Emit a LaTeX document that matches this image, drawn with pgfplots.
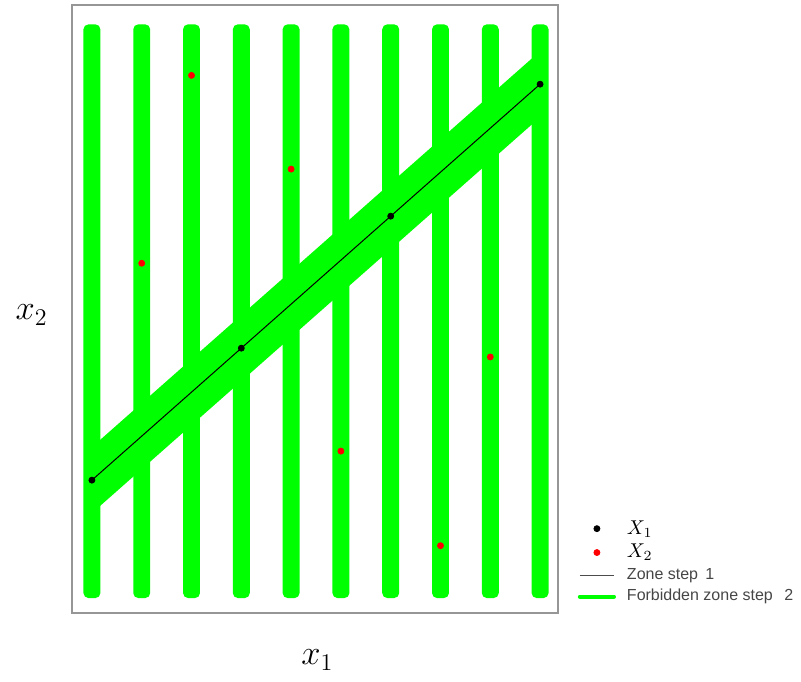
\documentclass[border=0pt]{standalone}
\usepackage{pgfplots}
\pgfplotsset{compat=1.18}
\usepackage{fontspec}
\setmainfont{Liberation Sans}
\definecolor{zone}{RGB}{0,255,0}
\definecolor{frame}{RGB}{150,150,150}
\definecolor{legtext}{RGB}{70,70,70}
\pgfplotsset{stripe/.style={fill=zone, draw=none, rounded corners=2.5pt, forget plot}}
\begin{document}
\begin{tikzpicture}
\path[use as bounding box] (0,0) rectangle (400.5pt,340.5pt);
\begin{axis}[
  at={(36pt,34pt)}, anchor=south west,
  scale only axis, width=243pt, height=304pt,
  xmin=-0.40, xmax=9.36, ymin=-3.02, ymax=10.8,
  xtick=\empty, ytick=\empty,
  axis line style={draw=frame, line width=0.8pt},
  xlabel={$x_1$}, ylabel={$x_2$},
  every axis x label/.style={at={(axis description cs:0.505,-0.0855)}, anchor=base, font=\fontsize{18.5}{21}\selectfont},
  every axis y label/.style={at={(axis description cs:-0.083,0.49)}, anchor=center, font=\fontsize{18.5}{21}\selectfont},
  legend style={at={(axis description cs:1.04,0.158)}, anchor=north west, draw=none, fill=none,
    font=\fontsize{8}{9}\selectfont\color{legtext}, inner sep=0pt, row sep=0.6pt,
    nodes={inner sep=1.5pt}, /tikz/column 1/.style={column sep=4pt}},
  legend cell align=left,
  clip=false,
]
% vertical forbidden stripes
\addplot[stripe] coordinates {(-0.17,-2.68) (0.17,-2.68) (0.17,10.36) (-0.17,10.36)} -- cycle;
\addplot[stripe] coordinates {(0.83,-2.68) (1.17,-2.68) (1.17,10.36) (0.83,10.36)} -- cycle;
\addplot[stripe] coordinates {(1.83,-2.68) (2.17,-2.68) (2.17,10.36) (1.83,10.36)} -- cycle;
\addplot[stripe] coordinates {(2.83,-2.68) (3.17,-2.68) (3.17,10.36) (2.83,10.36)} -- cycle;
\addplot[stripe] coordinates {(3.83,-2.68) (4.17,-2.68) (4.17,10.36) (3.83,10.36)} -- cycle;
\addplot[stripe] coordinates {(4.83,-2.68) (5.17,-2.68) (5.17,10.36) (4.83,10.36)} -- cycle;
\addplot[stripe] coordinates {(5.83,-2.68) (6.17,-2.68) (6.17,10.36) (5.83,10.36)} -- cycle;
\addplot[stripe] coordinates {(6.83,-2.68) (7.17,-2.68) (7.17,10.36) (6.83,10.36)} -- cycle;
\addplot[stripe] coordinates {(7.83,-2.68) (8.17,-2.68) (8.17,10.36) (7.83,10.36)} -- cycle;
\addplot[stripe] coordinates {(8.83,-2.68) (9.17,-2.68) (9.17,10.36) (8.83,10.36)} -- cycle;
% diagonal forbidden band
\addplot[fill=zone, draw=none, forget plot] coordinates {(-0.14,-0.89) (9.14,8.39) (9.14,9.89) (-0.14,0.61)} -- cycle;
% zone step 1 line
\addplot[black, line width=0.5pt, forget plot] coordinates {(0,0) (9,9)};
% X2 points
\addplot[only marks, mark=*, mark size=1.5pt, red, forget plot] coordinates {
 (1,4.93) (2,9.20) (4,7.07) (5,0.66) (7,-1.49) (8,2.80)};
% X1 points
\addplot[only marks, mark=*, mark size=1.5pt, black, forget plot] coordinates {
 (0,0) (3,3) (6,6) (9,9)};
% legend
\addlegendimage{only marks, mark=*, mark size=1.5pt, black}
\addlegendentry{{\fontsize{10}{10}\selectfont\color{black}$X_1$}}
\addlegendimage{only marks, mark=*, mark size=1.5pt, red}
\addlegendentry{{\fontsize{10}{10}\selectfont\color{black}$X_2$}}
\addlegendimage{black!70, line width=0.5pt}
\addlegendentry{Zone step\, 1}
\addlegendimage{zone, line width=2pt, line cap=round}
\addlegendentry{Forbidden zone step\ \, 2}
\end{axis}
\end{tikzpicture}
\end{document}
